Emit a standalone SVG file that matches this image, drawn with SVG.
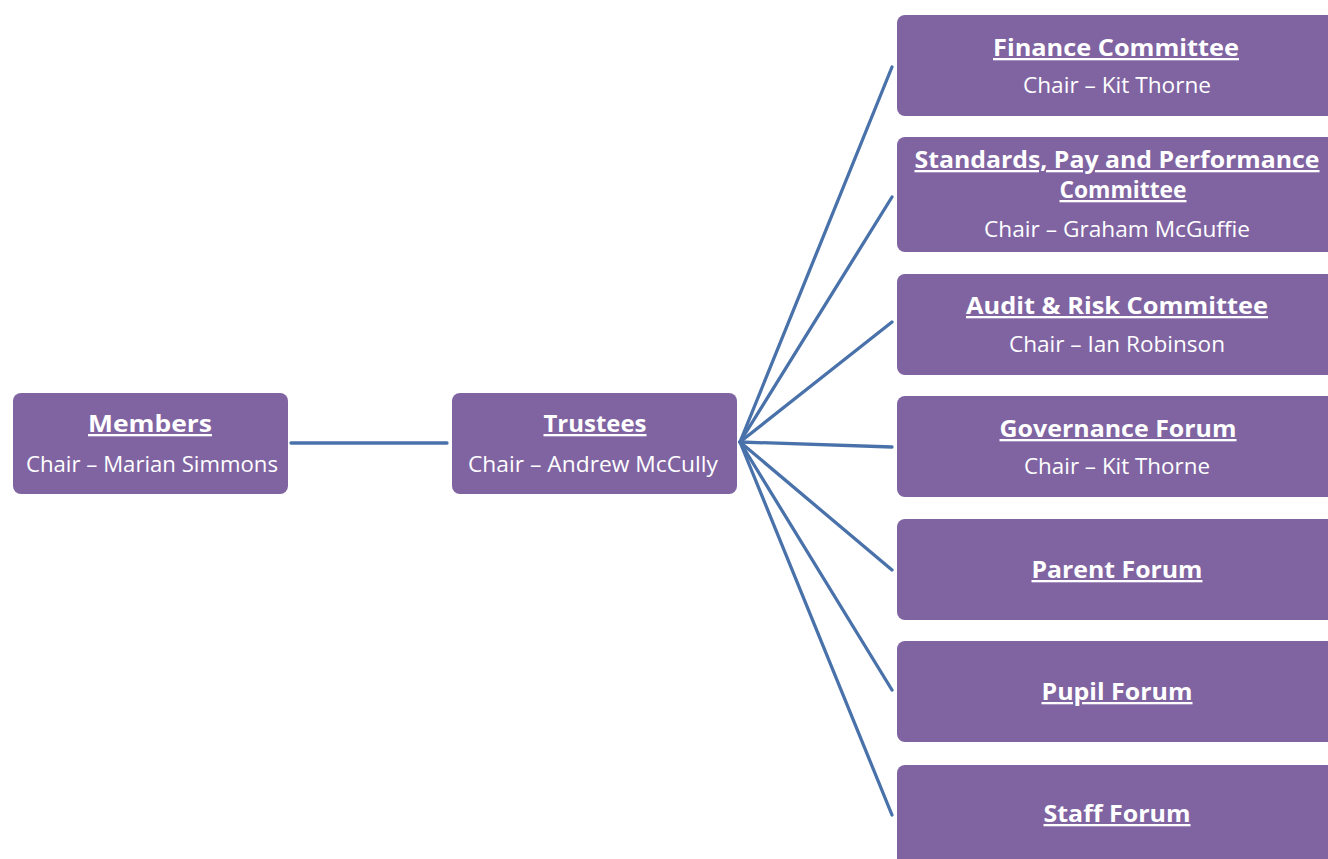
<svg xmlns="http://www.w3.org/2000/svg" width="1328" height="859" viewBox="0 0 1328 859">
  <style>
    .box { fill: #8064a2; }
    .title { font-family: "Open Sans", "Noto Sans", sans-serif; font-weight: bold; font-size: 23px; fill: #ffffff; text-anchor: middle; text-decoration: underline; }
    .sub { font-family: "Open Sans", "Noto Sans", sans-serif; font-size: 21px; fill: #ffffff; text-anchor: middle; }
    .link { stroke: #4a72aa; stroke-width: 3.3; fill: none; stroke-linecap: round; }
  </style>
  <rect width="1328" height="859" fill="#ffffff"/>

  <!-- connectors: Members to Trustees, then Trustees fanning out to each committee/forum -->
  <g id="connectors">
    <line class="link" x1="291" y1="443" x2="447" y2="443"/>
    <line class="link" x1="740" y1="442" x2="892" y2="67"/>
    <line class="link" x1="740" y1="442" x2="892" y2="197"/>
    <line class="link" x1="740" y1="442" x2="892" y2="322"/>
    <line class="link" x1="740" y1="442" x2="892" y2="447"/>
    <line class="link" x1="740" y1="442" x2="892" y2="570"/>
    <line class="link" x1="740" y1="442" x2="892" y2="690"/>
    <line class="link" x1="740" y1="442" x2="892" y2="815"/>
  </g>

  <g id="members">
    <rect class="box" x="13" y="393" width="275" height="101" rx="8"/>
    <text class="title" x="150" y="432" textLength="124" lengthAdjust="spacingAndGlyphs">Members</text>
    <text class="sub" x="152" y="472" textLength="252" lengthAdjust="spacingAndGlyphs">Chair – Marian Simmons</text>
  </g>

  <g id="trustees">
    <rect class="box" x="452" y="393" width="285" height="101" rx="8"/>
    <text class="title" x="595" y="432" textLength="103" lengthAdjust="spacingAndGlyphs">Trustees</text>
    <text class="sub" x="593" y="472" textLength="250" lengthAdjust="spacingAndGlyphs">Chair – Andrew McCully</text>
  </g>

  <g id="finance-committee">
    <rect class="box" x="897" y="15" width="450" height="101" rx="8"/>
    <text class="title" x="1116" y="56" textLength="246" lengthAdjust="spacingAndGlyphs">Finance Committee</text>
    <text class="sub" x="1117" y="93" textLength="188" lengthAdjust="spacingAndGlyphs">Chair – Kit Thorne</text>
  </g>

  <g id="standards-committee">
    <rect class="box" x="897" y="137" width="450" height="115" rx="8"/>
    <text class="title" x="1117" y="168" textLength="405" lengthAdjust="spacingAndGlyphs">Standards, Pay and Performance</text>
    <text class="title" x="1123" y="198" textLength="127" lengthAdjust="spacingAndGlyphs">Committee</text>
    <text class="sub" x="1117" y="237" textLength="266" lengthAdjust="spacingAndGlyphs">Chair – Graham McGuffie</text>
  </g>

  <g id="audit-risk-committee">
    <rect class="box" x="897" y="274" width="450" height="101" rx="8"/>
    <text class="title" x="1117" y="314" textLength="302" lengthAdjust="spacingAndGlyphs">Audit &amp; Risk Committee</text>
    <text class="sub" x="1117" y="352" textLength="216" lengthAdjust="spacingAndGlyphs">Chair – Ian Robinson</text>
  </g>

  <g id="governance-forum">
    <rect class="box" x="897" y="396" width="450" height="101" rx="8"/>
    <text class="title" x="1118" y="437" textLength="237" lengthAdjust="spacingAndGlyphs">Governance Forum</text>
    <text class="sub" x="1117" y="474" textLength="186" lengthAdjust="spacingAndGlyphs">Chair – Kit Thorne</text>
  </g>

  <g id="parent-forum">
    <rect class="box" x="897" y="519" width="450" height="101" rx="8"/>
    <text class="title" x="1117" y="578" textLength="171" lengthAdjust="spacingAndGlyphs">Parent Forum</text>
  </g>

  <g id="pupil-forum">
    <rect class="box" x="897" y="641" width="450" height="101" rx="8"/>
    <text class="title" x="1117" y="700" textLength="151" lengthAdjust="spacingAndGlyphs">Pupil Forum</text>
  </g>

  <g id="staff-forum">
    <rect class="box" x="897" y="765" width="450" height="110" rx="8"/>
    <text class="title" x="1117" y="822" textLength="147" lengthAdjust="spacingAndGlyphs">Staff Forum</text>
  </g>
</svg>
